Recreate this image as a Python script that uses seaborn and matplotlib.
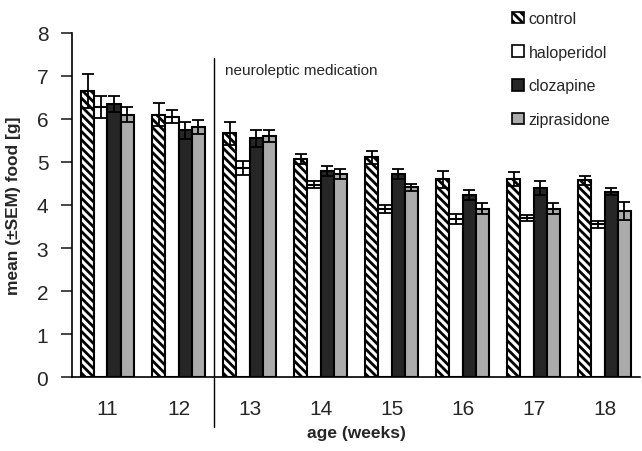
import matplotlib
matplotlib.use("Agg")
import matplotlib.pyplot as plt
import seaborn as sns
import pandas as pd
import numpy as np
from matplotlib.patches import Patch

weeks = ["11", "12", "13", "14", "15", "16", "17", "18"]
groups = ["control", "haloperidol", "clozapine", "ziprasidone"]
control = [6.65, 6.10, 5.67, 5.07, 5.11, 4.60, 4.60, 4.57]
control_sem = [0.40, 0.27, 0.27, 0.12, 0.15, 0.20, 0.16, 0.11]
haloperidol = [6.28, 6.05, 4.86, 4.47, 3.91, 3.67, 3.70, 3.55]
haloperidol_sem = [0.25, 0.15, 0.17, 0.08, 0.10, 0.12, 0.07, 0.08]
clozapine = [6.35, 5.74, 5.55, 4.79, 4.72, 4.23, 4.39, 4.31]
clozapine_sem = [0.18, 0.20, 0.19, 0.12, 0.12, 0.12, 0.16, 0.08]
ziprasidone = [6.10, 5.82, 5.60, 4.72, 4.41, 3.91, 3.91, 3.86]
ziprasidone_sem = [0.17, 0.16, 0.14, 0.12, 0.08, 0.13, 0.13, 0.21]

values = {"control": control, "haloperidol": haloperidol,
          "clozapine": clozapine, "ziprasidone": ziprasidone}
sems = {"control": control_sem, "haloperidol": haloperidol_sem,
        "clozapine": clozapine_sem, "ziprasidone": ziprasidone_sem}
colors = {"control": "white", "haloperidol": "white",
          "clozapine": "#262626", "ziprasidone": "#ababab"}

rows = []
for g in groups:
    for w, v in zip(weeks, values[g]):
        rows.append({"week": w, "group": g, "value": v})
df = pd.DataFrame(rows)

sns.set_theme(style="white")
plt.rcParams["font.family"] = ["Liberation Sans", "DejaVu Sans"]
plt.rcParams["hatch.linewidth"] = 2.0
plt.rcParams["hatch.color"] = "black"

fig = plt.figure(figsize=(6.42, 4.52), dpi=100)
ax = fig.add_axes([0.1121, 0.1637, 0.885, 0.7611])

sns.barplot(data=df, x="week", y="value", hue="group", order=weeks,
            hue_order=groups, palette=colors, errorbar=None, width=0.74,
            edgecolor="black", linewidth=1.5, ax=ax, legend=False)

for g, cont in zip(groups, ax.containers):
    xs = []
    for p in cont.patches:
        if g == "control":
            p.set_hatch("\\\\\\\\")
        xs.append(p.get_x() + p.get_width() / 2)
    ax.errorbar(xs, values[g], yerr=sems[g], fmt="none", ecolor="black",
                elinewidth=1.3, capsize=4, capthick=1.3, zorder=5)

ax.set_ylim(0, 8)
ax.set_xlim(-0.5, 7.5)
ax.set_yticks(range(0, 9))
ax.set_yticklabels([str(i) for i in range(9)], fontsize=15)
ax.set_xticklabels(weeks, fontsize=15)
ax.tick_params(axis="y", direction="out", length=8, width=1.2, left=True, pad=9)
ax.tick_params(axis="x", length=0, pad=16)
for s in ["top", "right"]:
    ax.spines[s].set_visible(False)
for s in ["left", "bottom"]:
    ax.spines[s].set_color("black")
    ax.spines[s].set_linewidth(1.2)

ax.set_ylabel("mean (±SEM) food [g]", fontsize=12.5, fontweight="bold",
              labelpad=11)
ax.set_xlabel("age (weeks)", fontsize=12.5, fontweight="bold", labelpad=5)

ax.plot([1.5, 1.5], [7.42, -1.16], color="black", lw=1.0, clip_on=False)
ax.text(1.66, 7.15, "neuroleptic medication", fontsize=11, ha="left",
        va="center")

handles = [Patch(facecolor=colors[g], edgecolor="black", linewidth=1.2,
                 hatch=("\\\\\\\\" if g == "control" else None)) for g in groups]
fig.legend(handles, groups, loc="upper left", bbox_to_anchor=(0.775, 1.005),
           frameon=False, fontsize=11.5, handlelength=0.75, handleheight=0.75,
           handletextpad=0.3, labelspacing=1.17, borderpad=0.4)

fig.savefig("out.png", dpi=100)
